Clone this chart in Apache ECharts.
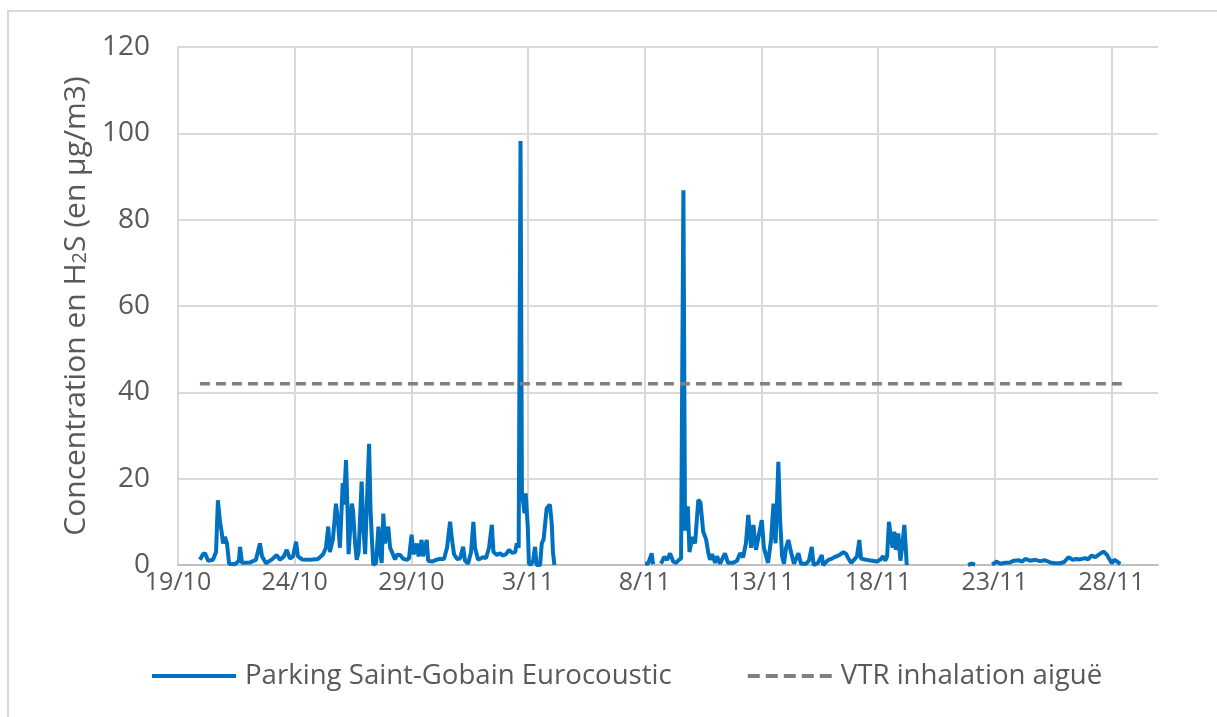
<!DOCTYPE html>
<html>
<head>
<meta charset="utf-8">
<script src="https://cdn.jsdelivr.net/npm/echarts@6/dist/echarts.min.js"></script>
<style>
  html, body { margin: 0; padding: 0; background: #fff; }
  #chart { width: 1217px; height: 717px; }
</style>
</head>
<body>
<div id="chart"></div>
<script>
// day offsets from 19/10 (00:00), null value = no measurement
const startDate = new Date(2021, 9, 19);
const dayOffsets = [
  0.94, 1.07, 1.16, 1.29, 1.50, 1.63, 1.71, 1.80, 1.87, 1.93, 2.01, 2.10, 2.19, 2.44, 2.61, 2.66, 2.74,
  3.09, 3.34, 3.51, 3.60, 3.77, 4.03, 4.23, 4.37, 4.54, 4.66, 4.80, 4.93, 5.06, 5.14, 5.32, 5.66, 6.00,
  6.22, 6.34, 6.44, 6.51, 6.64, 6.77, 6.86, 6.94, 7.06, 7.11, 7.20, 7.27, 7.31, 7.45, 7.50, 7.59, 7.66,
  7.74, 7.87, 7.95, 8.02, 8.10, 8.19, 8.25, 8.31, 8.37, 8.49, 8.59, 8.66, 8.73, 8.80, 8.87, 8.94, 9.01,
  9.09, 9.17, 9.30, 9.39, 9.52, 9.64, 9.80, 9.90, 10.01, 10.09, 10.16, 10.23, 10.31, 10.44, 10.50, 10.66,
  10.72, 10.89, 11.06, 11.23, 11.40, 11.53, 11.66, 11.74, 11.83, 11.96, 12.09, 12.22, 12.30, 12.43, 12.56,
  12.66, 12.73, 12.86, 13.07, 13.20, 13.33, 13.45, 13.52, 13.67, 13.80, 13.93, 14.06, 14.19, 14.32, 14.45,
  14.52, 14.60, 14.68, 14.74, 14.80, 14.85, 14.90, 14.99, 15.04, 15.13, 15.22, 15.30, 15.37, 15.52, 15.59,
  15.67, 15.80, 15.94, 16.02, 16.07, 16.13, 16.20,
  20.02, 20.15, 20.23, 20.30, 20.36, 20.45,
  20.70, 20.84, 20.96, 21.09, 21.16, 21.22, 21.34, 21.47, 21.56, 21.66, 21.73, 21.85, 21.92, 22.04, 22.16,
  22.30, 22.39, 22.51, 22.63, 22.72, 22.80, 22.89, 23.02, 23.10, 23.23, 23.44, 23.57, 23.79, 23.96, 24.09,
  24.22, 24.34, 24.44, 24.56, 24.66, 24.77, 24.86, 25.02, 25.11, 25.29, 25.42, 25.52, 25.61, 25.73, 25.80,
  25.89, 25.97, 26.06, 26.16, 26.27, 26.40, 26.59, 26.70, 26.92, 27.04, 27.16, 27.24, 27.43, 27.59, 27.65,
  27.87, 28.03, 28.17, 28.34, 28.52, 28.64, 28.73, 28.85, 29.02, 29.10, 29.20, 29.27, 29.49, 29.74, 29.96,
  30.09, 30.22, 30.31, 30.39, 30.47, 30.56, 30.63, 30.70, 30.77, 30.87, 30.96, 31.03, 31.13, 31.18, 31.23,
  31.30,
  33.86, 34.02, 34.16, 34.30,
  34.89, 35.09, 35.23, 35.45, 35.66, 35.83, 36.02, 36.18, 36.31, 36.52, 36.74, 36.95, 37.16, 37.38, 37.59,
  37.81, 37.98, 38.16, 38.35, 38.49, 38.66, 38.88, 39.00, 39.16, 39.31, 39.43, 39.66, 39.81, 39.90, 40.02,
  40.12, 40.25, 40.38
];
const h2sValues = [
  1.2, 2.5, 2.7, 1.0, 1.2, 3, 15, 10, 7.7, 5, 6.5, 5, 0.3, 0.2, 1, 4.2, 0.5,
  0.6, 1.2, 5, 2, 0.4, 1.3, 2.3, 1.2, 2, 3.5, 1.5, 2, 5.4, 2, 1.3, 1.2, 1.4,
  2.5, 4, 8.9, 3, 6, 14.2, 10, 4, 19, 14, 24.3, 12, 2.5, 14.2, 12.7, 5, 1.2,
  3, 19.3, 8, 2.5, 15, 28.1, 13, 6, 0, 0.5, 8.9, 3, 0.5, 11.9, 5, 7, 8.9,
  4, 3, 1.3, 2.4, 2.3, 1.5, 1.2, 1.5, 7, 2.5, 3.5, 5, 2, 5.8, 2, 5.8,
  1, 0.8, 1.2, 1.4, 1.4, 4, 10, 6, 2.5, 1.4, 1.5, 4.2, 1, 0.3, 3,
  10, 4, 1.2, 1.8, 1.6, 4, 9.3, 3, 2.3, 2.7, 2.2, 2.5, 3.5, 2.8, 3,
  5, 4, 98.2, 17, 17.4, 12, 16.6, 8.9, 0.3, 0.1, 1, 4.2, 0, 0, 5,
  6, 13.1, 14, 9.4, 3, 0, null,
  0.4, 0.3, 0, 2.7, 0.2, null,
  0.3, 1.9, 1.2, 2.7, 3, 0.8, 0.5, 1.2, 1.5, 86.8, 8, 13.6, 3, 6.5, 5,
  15.1, 14.5, 7.7, 6, 3, 1.2, 2.5, 0.5, 2, 0.3, 2.7, 0.5, 0.5, 1, 2.7,
  1.8, 5, 11.6, 4, 9.3, 3.5, 6, 10.4, 4, 0.5, 6, 14.2, 5, 23.9, 11,
  2, 0.3, 4, 5.8, 3, 0.3, 2.7, 0.3, 0.3, 1, 4.2, 0, 0.5, 2.3, 0,
  1.2, 1.5, 1.9, 2.3, 3, 2.5, 1.5, 0.5, 1.5, 2, 5.8, 1.5, 1.2, 1.0, 0.8,
  1.2, 2, 1, 2, 10, 6, 4, 7.7, 3.5, 7.3, 1, 4, 9.3, 5, 0,
  null,
  0, 0.3, 0.1, null,
  0.1, 0.8, 0.3, 0.5, 0.6, 1, 1.1, 0.8, 1.4, 1.0, 1.2, 0.9, 1.1, 0.6, 0.4,
  0.4, 0.7, 1.8, 1.2, 1.4, 1.3, 1.6, 1.3, 2.2, 1.8, 2.3, 3.1, 2.4, 1.5, 0.4,
  1.2, 0.8, 0.2
];
const vtrDays = [0.94, 40.46];
const vtrValues = [42, 42];
const yTicks = { min: 0, max: 120, step: 20 };
const xTicks = { min: 0, max: 42, step: 5 };

const textColor = '#595959';
const fontFamily = '"Open Sans", "Noto Sans", sans-serif';

const h2sData = dayOffsets.map((d, i) => [d, h2sValues[i] === null ? '-' : h2sValues[i]]);
const vtrData = vtrDays.map((d, i) => [d, vtrValues[i]]);

function dayLabel(d) {
  const dt = new Date(startDate.getTime() + d * 86400000);
  return dt.getDate() + '/' + (dt.getMonth() + 1);
}

// legend icons: solid bar and five dashes
const solidIcon = 'path://M0,0h84v4h-84z';
const dashIcon = 'path://M0,0h12v4h-12z M18,0h12v4h-12z M36,0h12v4h-12z M54,0h12v4h-12z M72,0h12v4h-12z';

const chart = echarts.init(document.getElementById('chart'), null, { renderer: 'canvas' });
chart.setOption({
  animation: false,
  backgroundColor: '#fff',
  textStyle: { fontFamily: fontFamily },
  graphic: [{
    type: 'rect',
    shape: { x: 8, y: 11, width: 1300, height: 800 },
    style: { fill: 'none', stroke: '#d9d9d9', lineWidth: 2 },
    silent: true
  }],
  grid: { left: 178, right: 59, top: 47, bottom: 152 },
  legend: {
    left: 152,
    top: 662,
    padding: 0,
    itemWidth: 84,
    itemHeight: 4,
    itemGap: 76,
    textStyle: { color: textColor, fontSize: 27.6, fontFamily: fontFamily, padding: [0, 0, 0, 4] },
    data: [
      { name: 'Parking Saint-Gobain Eurocoustic', icon: solidIcon },
      { name: 'VTR inhalation aiguë', icon: dashIcon }
    ]
  },
  xAxis: {
    type: 'value',
    min: xTicks.min,
    max: xTicks.max,
    interval: xTicks.step,
    axisLine: { show: true, lineStyle: { color: '#bfbfbf', width: 2 } },
    axisTick: { show: false },
    axisLabel: {
      color: textColor,
      fontSize: 25,
      margin: 5,
      showMaxLabel: false,
      formatter: (v) => (v % 5 === 0 ? dayLabel(v) : '')
    },
    splitLine: { show: true, showMaxLine: false, lineStyle: { color: '#d9d9d9', width: 2 } }
  },
  yAxis: {
    type: 'value',
    min: yTicks.min,
    max: yTicks.max,
    interval: yTicks.step,
    name: 'Concentration en H{sub|2}S (en µg/m3)',
    nameLocation: 'middle',
    nameGap: 86,
    nameRotate: 90,
    nameTextStyle: {
      color: textColor,
      fontSize: 30,
      fontFamily: fontFamily,
      rich: { sub: { fontSize: 20, color: textColor, fontFamily: fontFamily, padding: [8, 0, 0, 0] } }
    },
    axisLine: { show: true, lineStyle: { color: '#d9d9d9', width: 2 } },
    axisTick: { show: false },
    axisLabel: { color: textColor, fontSize: 28, margin: 28 },
    splitLine: { show: true, lineStyle: { color: '#d9d9d9', width: 2 } }
  },
  series: [
    {
      name: 'Parking Saint-Gobain Eurocoustic',
      type: 'line',
      data: h2sData,
      showSymbol: false,
      symbol: 'none',
      connectNulls: false,
      lineStyle: { color: '#0070c0', width: 4 },
      itemStyle: { color: '#0070c0' }
    },
    {
      name: 'VTR inhalation aiguë',
      type: 'line',
      data: vtrData,
      showSymbol: false,
      symbol: 'none',
      lineStyle: { color: '#808080', width: 3.5, type: [10, 6] },
      itemStyle: { color: '#808080' }
    }
  ]
});
</script>
</body>
</html>
